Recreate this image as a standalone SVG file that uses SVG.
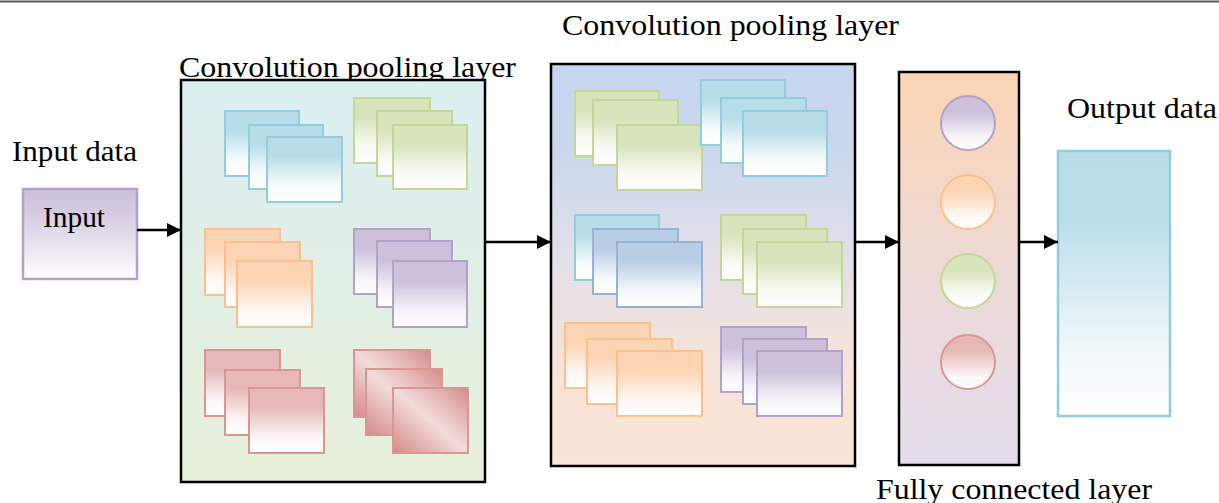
<svg xmlns="http://www.w3.org/2000/svg" width="1219" height="503" viewBox="0 0 1219 503">
<defs>
<linearGradient id="gBlue" x1="0" y1="0" x2="0" y2="1"><stop offset="0" stop-color="#b7dde8"/><stop offset="0.3" stop-color="#b7dde8"/><stop offset="0.75" stop-color="#f7fbfc"/><stop offset="1" stop-color="#ffffff"/></linearGradient>
<linearGradient id="gGreen" x1="0" y1="0" x2="0" y2="1"><stop offset="0" stop-color="#d7e4bc"/><stop offset="0.3" stop-color="#d7e4bc"/><stop offset="0.75" stop-color="#fafbf6"/><stop offset="1" stop-color="#ffffff"/></linearGradient>
<linearGradient id="gOrange" x1="0" y1="0" x2="0" y2="1"><stop offset="0" stop-color="#fcd5b4"/><stop offset="0.3" stop-color="#fcd5b4"/><stop offset="0.75" stop-color="#fdf7f3"/><stop offset="1" stop-color="#ffffff"/></linearGradient>
<linearGradient id="gPurple" x1="0" y1="0" x2="0" y2="1"><stop offset="0" stop-color="#ccc0da"/><stop offset="0.3" stop-color="#ccc0da"/><stop offset="0.75" stop-color="#f6f4fa"/><stop offset="1" stop-color="#ffffff"/></linearGradient>
<linearGradient id="gRed" x1="0" y1="0" x2="0" y2="1"><stop offset="0" stop-color="#e6b9b8"/><stop offset="0.3" stop-color="#e6b9b8"/><stop offset="0.75" stop-color="#fbf5f5"/><stop offset="1" stop-color="#ffffff"/></linearGradient>
<linearGradient id="gBlue2" x1="0" y1="0" x2="0" y2="1"><stop offset="0" stop-color="#b9cde5"/><stop offset="0.3" stop-color="#b9cde5"/><stop offset="0.75" stop-color="#f5f8fc"/><stop offset="1" stop-color="#ffffff"/></linearGradient>
<linearGradient id="gRedDiag" x1="1" y1="0" x2="0" y2="1"><stop offset="0" stop-color="#d48a88"/><stop offset="0.22" stop-color="#e3b1b0"/><stop offset="0.5" stop-color="#f2dcdb"/><stop offset="0.75" stop-color="#e3b1b0"/><stop offset="1" stop-color="#d48a88"/></linearGradient>
<linearGradient id="gBox1" x1="0" y1="0" x2="0" y2="1"><stop offset="0" stop-color="#dbeef1"/><stop offset="1" stop-color="#e8f0da"/></linearGradient>
<linearGradient id="gBox2" x1="0" y1="0" x2="0" y2="1"><stop offset="0" stop-color="#c6d6ef"/><stop offset="0.2" stop-color="#c9d7ee"/><stop offset="0.5" stop-color="#e4e0e8"/><stop offset="0.8" stop-color="#f9e4d7"/><stop offset="1" stop-color="#f9e6d8"/></linearGradient>
<linearGradient id="gBox3" x1="0" y1="0" x2="0" y2="1"><stop offset="0" stop-color="#fcd5b4"/><stop offset="0.5" stop-color="#edd9d6"/><stop offset="1" stop-color="#e3dcec"/></linearGradient>
<linearGradient id="gInput" x1="0" y1="0" x2="0" y2="1"><stop offset="0" stop-color="#ccc0da"/><stop offset="0.3" stop-color="#d6cde2"/><stop offset="1" stop-color="#ffffff"/></linearGradient>
<linearGradient id="gOut" x1="0" y1="0" x2="0" y2="1"><stop offset="0" stop-color="#b7dde8"/><stop offset="0.25" stop-color="#b9dee8"/><stop offset="0.75" stop-color="#f1f8fb"/><stop offset="1" stop-color="#ffffff"/></linearGradient>
<marker id="arr" markerWidth="14" markerHeight="14" refX="14" refY="7" orient="auto" markerUnits="userSpaceOnUse"><path d="M0,0 L14,7 L0,14 Z" fill="#000"/></marker>
</defs>
<style>
.lbl{font-family:"Liberation Serif","Times New Roman",serif;font-size:30px;fill:#000;}
.frame{stroke:#000;stroke-width:2.5;}
.sq{stroke-width:2;}
.blue{fill:url(#gBlue);stroke:#93cddd;}
.green{fill:url(#gGreen);stroke:#c3d69b;}
.orange{fill:url(#gOrange);stroke:#fac090;}
.purple{fill:url(#gPurple);stroke:#b3a2c7;}
.red{fill:url(#gRed);stroke:#d99694;}
.blue2{fill:url(#gBlue2);stroke:#95b3d7;}
.reddiag{fill:url(#gRedDiag);stroke:#d99694;}
.conn{stroke:#000;stroke-width:2.5;fill:none;marker-end:url(#arr);}
</style>
<line x1="0" y1="1.5" x2="1219" y2="1.5" stroke="#5a5a5a" stroke-width="2"/>

<g id="input">
<text class="lbl" x="12" y="161" textLength="125" lengthAdjust="spacingAndGlyphs">Input data</text>
<rect x="23" y="189" width="114" height="90" fill="url(#gInput)" stroke="#b3a2c7" stroke-width="2.5"/>
<text class="lbl" x="43" y="227" textLength="62" lengthAdjust="spacingAndGlyphs">Input</text>
</g>

<g id="conv1">
<text class="lbl" x="179" y="77" textLength="337" lengthAdjust="spacingAndGlyphs">Convolution pooling layer</text>
<rect class="frame" x="181" y="80" width="304" height="402" fill="url(#gBox1)"/>
<rect class="sq blue" x="225" y="111" width="74" height="65"/>
<rect class="sq blue" x="249" y="125" width="74" height="64"/>
<rect class="sq blue" x="267" y="137" width="75" height="65"/>
<rect class="sq green" x="354" y="98" width="76" height="65"/>
<rect class="sq green" x="377" y="111" width="75" height="65"/>
<rect class="sq green" x="393" y="125" width="74" height="64"/>
<rect class="sq orange" x="205" y="229" width="75" height="66"/>
<rect class="sq orange" x="225" y="242" width="75" height="65"/>
<rect class="sq orange" x="237" y="261" width="75" height="66"/>
<rect class="sq purple" x="354" y="229" width="76" height="65"/>
<rect class="sq purple" x="377" y="241" width="75" height="66"/>
<rect class="sq purple" x="393" y="261" width="74" height="66"/>
<rect class="sq red" x="205" y="350" width="75" height="66"/>
<rect class="sq red" x="225" y="370" width="75" height="65"/>
<rect class="sq red" x="249" y="388" width="75" height="65"/>
<rect class="sq reddiag" x="354" y="350" width="76" height="67"/>
<rect class="sq reddiag" x="366" y="369" width="76" height="66"/>
<rect class="sq reddiag" x="393" y="388" width="75" height="65"/>
</g>

<g id="conv2">
<text class="lbl" x="562" y="35" textLength="337" lengthAdjust="spacingAndGlyphs">Convolution pooling layer</text>
<rect class="frame" x="551" y="64" width="304" height="402" fill="url(#gBox2)"/>
<rect class="sq green" x="575" y="91" width="84" height="65"/>
<rect class="sq green" x="593" y="100" width="85" height="65"/>
<rect class="sq green" x="617" y="125" width="85" height="65"/>
<rect class="sq blue" x="701" y="80" width="84" height="65"/>
<rect class="sq blue" x="721" y="98" width="85" height="65"/>
<rect class="sq blue" x="743" y="111" width="84" height="65"/>
<rect class="sq blue" x="575" y="215" width="84" height="65"/>
<rect class="sq blue2" x="593" y="229" width="85" height="65"/>
<rect class="sq blue2" x="617" y="242" width="85" height="65"/>
<rect class="sq green" x="721" y="215" width="85" height="65"/>
<rect class="sq green" x="743" y="229" width="84" height="65"/>
<rect class="sq green" x="757" y="242" width="85" height="65"/>
<rect class="sq orange" x="565" y="323" width="85" height="65"/>
<rect class="sq orange" x="587" y="339" width="85" height="65"/>
<rect class="sq orange" x="617" y="351" width="85" height="65"/>
<rect class="sq purple" x="721" y="327" width="85" height="65"/>
<rect class="sq purple" x="743" y="339" width="84" height="65"/>
<rect class="sq purple" x="757" y="351" width="85" height="65"/>
</g>

<g id="fc">
<rect class="frame" x="899" y="72" width="120" height="393" fill="url(#gBox3)"/>
<circle cx="968" cy="123" r="27" fill="url(#gPurple)" stroke="#b3a2c7" stroke-width="2"/>
<circle cx="968" cy="202" r="27" fill="url(#gOrange)" stroke="#fac090" stroke-width="2"/>
<circle cx="968" cy="281" r="27" fill="url(#gGreen)" stroke="#c3d69b" stroke-width="2"/>
<circle cx="968" cy="362" r="27" fill="url(#gRed)" stroke="#d99694" stroke-width="2"/>
<text class="lbl" x="876" y="499" textLength="276" lengthAdjust="spacingAndGlyphs">Fully connected layer</text>
</g>

<g id="output">
<text class="lbl" x="1067" y="118" textLength="150" lengthAdjust="spacingAndGlyphs">Output data</text>
<rect x="1058" y="151" width="112" height="265" fill="url(#gOut)" stroke="#93cddd" stroke-width="2.5"/>
</g>

<g id="connectors">
<line class="conn" x1="137" y1="230" x2="181" y2="230"/>
<line class="conn" x1="486" y1="242" x2="551" y2="242"/>
<line class="conn" x1="856" y1="242" x2="899" y2="242"/>
<line class="conn" x1="1020" y1="242" x2="1058" y2="242"/>
</g>
</svg>
